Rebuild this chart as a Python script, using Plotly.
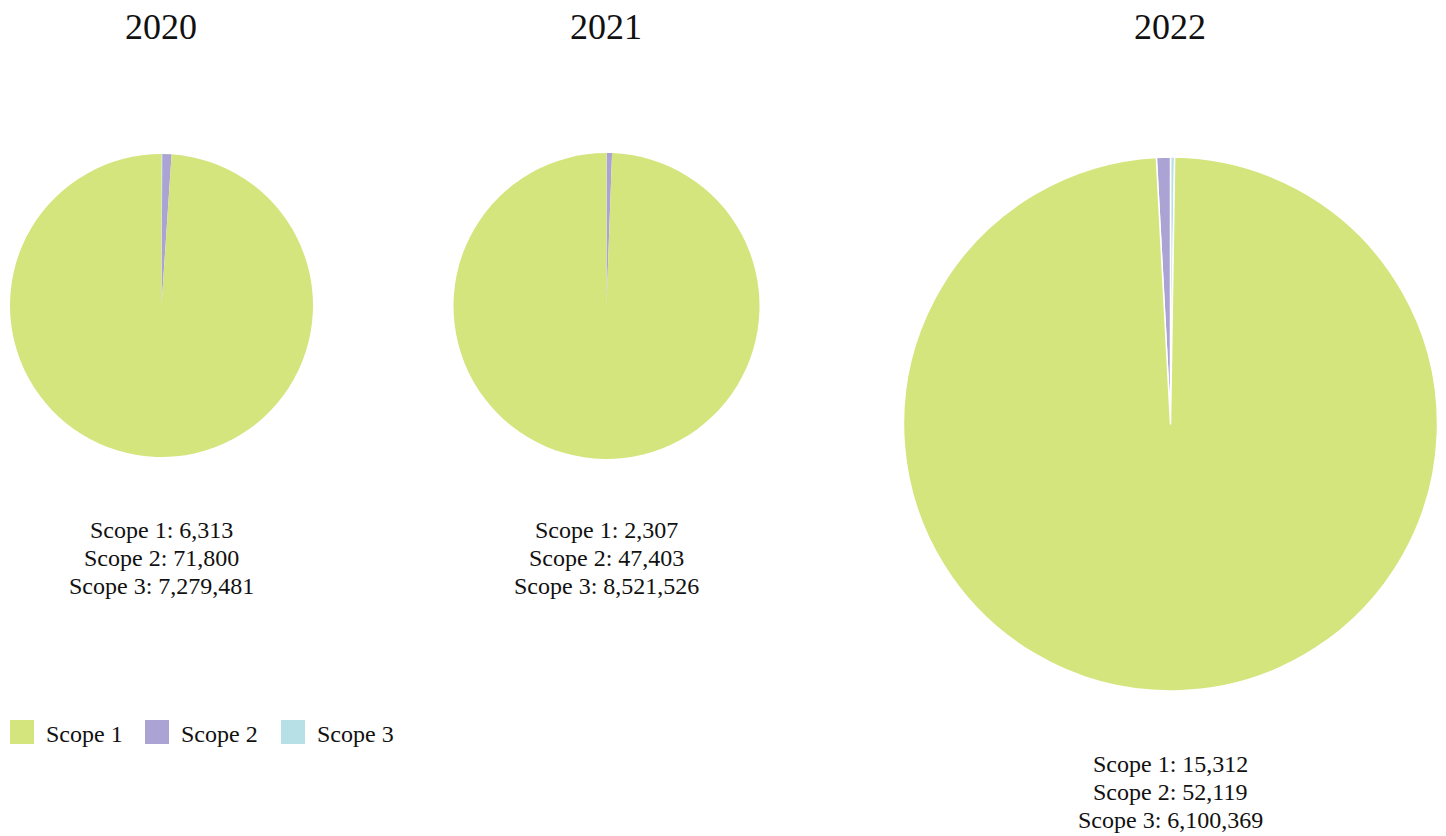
import plotly.graph_objects as go

years = ["2020", "2021", "2022"]
scope_labels = ["Scope 1", "Scope 2", "Scope 3"]
scope1 = [6313, 2307, 15312]
scope2 = [71800, 47403, 52119]
scope3 = [7279481, 8521526, 6100369]
legend_colors = ["#D4E57E", "#ACA3D5", "#B7DFE6"]
# slice colours as they appear in the picture (small slices, then the big green one)
slice_colors = ["#B7DFE6", "#ACA3D5", "#D4E57E"]

W, H = 1446, 836
FONT = "Liberation Serif"

def px(x):
    return x / W

def py(y):
    return 1 - y / H

# pixel boxes of each pie [x0, x1, y0, y1] and centres of text blocks
pie_boxes = [(10, 313, 153, 458), (452, 761, 153, 459), (903, 1438, 157, 691)]
directions = ["clockwise", "clockwise", "counterclockwise"]
title_x = [161, 606, 1170]
text_y = [[530, 558, 586], [530, 558, 586], [764, 792, 820]]

fig = go.Figure()
for i, yr in enumerate(years):
    x0, x1, y0, y1 = pie_boxes[i]
    fig.add_trace(go.Pie(
        labels=scope_labels,
        values=[scope1[i], scope2[i], scope3[i]],
        marker=dict(colors=slice_colors,
                    line=dict(color="white", width=1.5 if i == 2 else 0)),
        sort=False,
        direction=directions[i],
        rotation=0,
        textinfo="none",
        hoverinfo="label+value",
        showlegend=False,
        domain=dict(x=[px(x0), px(x1)], y=[py(y1), py(y0)]),
        name=yr,
    ))

annotations = []
for i, yr in enumerate(years):
    annotations.append(dict(text=yr, x=px(title_x[i]), y=py(27), xref="paper", yref="paper",
                            showarrow=False, xanchor="center", yanchor="middle",
                            font=dict(family=FONT, size=36, color="#111111")))
    vals = [scope1[i], scope2[i], scope3[i]]
    for j, lab in enumerate(scope_labels):
        annotations.append(dict(text=f"{lab}: {vals[j]:,}", x=px(title_x[i]), y=py(text_y[i][j]),
                                xref="paper", yref="paper", showarrow=False,
                                xanchor="center", yanchor="middle",
                                font=dict(family=FONT, size=24, color="#111111")))

shapes = []
legend_swatch_x = [10, 145, 281]
for k, lab in enumerate(scope_labels):
    sx = legend_swatch_x[k]
    shapes.append(dict(type="rect", xref="paper", yref="paper",
                       x0=px(sx), x1=px(sx + 24), y0=py(744), y1=py(720),
                       fillcolor=legend_colors[k], line=dict(width=0)))
    annotations.append(dict(text=lab, x=px(sx + 34), y=py(734), xref="paper", yref="paper",
                            showarrow=False, xanchor="left", yanchor="middle",
                            font=dict(family=FONT, size=24, color="#111111")))

fig.update_layout(
    width=W, height=H,
    margin=dict(l=0, r=0, t=0, b=0),
    paper_bgcolor="white",
    plot_bgcolor="white",
    annotations=annotations,
    shapes=shapes,
    showlegend=False,
)

fig.write_html("out.html", config={"displayModeBar": False},
               post_script="document.body.style.margin='0';document.body.style.overflow='hidden';")
